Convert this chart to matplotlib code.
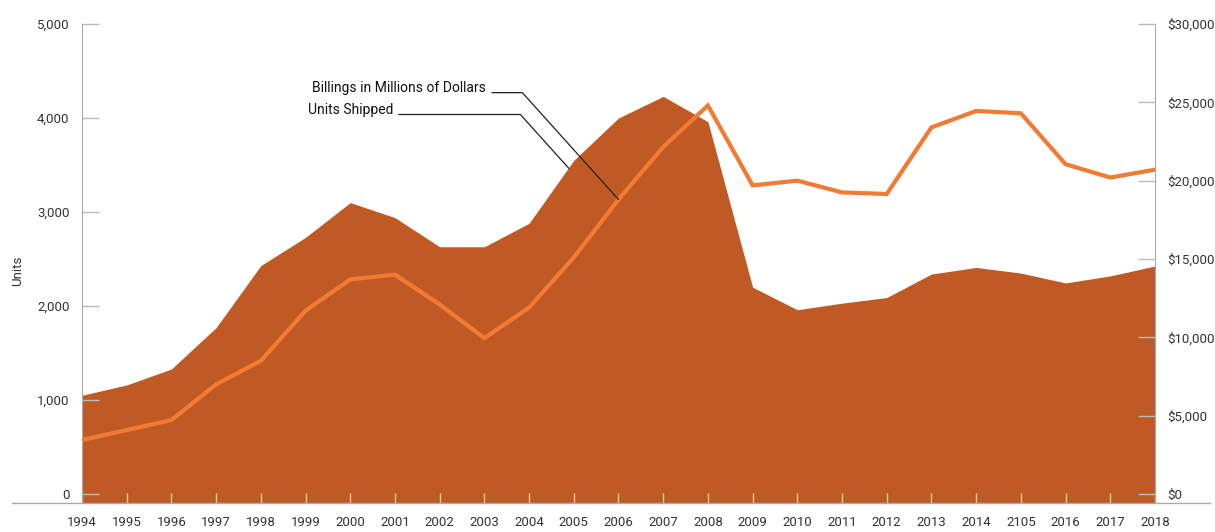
import numpy as np
import matplotlib.pyplot as plt
from matplotlib.transforms import offset_copy

plt.rcParams['font.family'] = ['Roboto', 'DejaVu Sans']

years = list(range(1994, 2019))
year_labels = ['1994', '1995', '1996', '1997', '1998', '1999', '2000', '2001',
               '2002', '2003', '2004', '2005', '2006', '2007', '2008', '2009',
               '2010', '2011', '2012', '2013', '2014', '2105', '2016', '2017',
               '2018']

# units shipped (left axis, area)
units = [1050, 1160, 1330, 1770, 2430, 2730, 3100, 2940, 2630, 2630, 2880,
         3550, 4000, 4230, 3960, 2200, 1960, 2030, 2090, 2340, 2410, 2350,
         2245, 2320, 2425]

# billings in millions of dollars (right axis, line)
billings = [3450, 4080, 4720, 7000, 8500, 11700, 13700, 14000, 12100, 9950,
            11900, 15100, 18800, 22150, 24800, 19700, 20000, 19250, 19150,
            23400, 24450, 24300, 21050, 20200, 20700]

unit_ticks = [0, 1000, 2000, 3000, 4000, 5000]
dollar_ticks = [0, 5000, 10000, 15000, 20000, 25000, 30000]

area_color = '#C05A25'
line_color = '#F27A33'
tick_gray = '#BBBBBB'
text_color = '#333333'

fig = plt.figure(figsize=(12.15, 5.32), dpi=100)
ax = fig.add_axes([0.0675, 0.0545, 0.8831, 0.9004])
ax2 = ax.twinx()

ymin = -96
ax.fill_between(years, units, ymin, color=area_color, lw=0, zorder=1)
ax.set_xlim(1994, 2018)
ax.set_ylim(ymin, 5000)
ax.set_yticks(unit_ticks)
ax.set_yticklabels(['{:,}'.format(v) for v in unit_ticks])
ax.set_xticks(years)
ax.set_xticklabels(year_labels)

ax2.plot(years, billings, color=line_color, lw=3, solid_joinstyle='miter')
ax2.set_ylim(ymin * 6, 30000)
ax2.set_yticks(dollar_ticks)
ax2.set_yticklabels(['${:,}'.format(v) for v in dollar_ticks])

for s in ['top', 'right', 'bottom']:
    ax.spines[s].set_visible(False)
for s in ['top', 'left', 'bottom']:
    ax2.spines[s].set_visible(False)
ax.spines['left'].set_color('#AAAAAA')
ax2.spines['right'].set_color('#AAAAAA')

# long baseline running past both axes
ax.plot([-0.065, 1.051], [0, 0], transform=ax.transAxes, color='#AAAAAA',
        lw=1, clip_on=False, zorder=3)

ax.tick_params(axis='y', direction='in', length=12, width=1, color=tick_gray,
               pad=9, labelsize=9.5, labelcolor=text_color)
ax2.tick_params(axis='y', direction='in', length=12, width=1, color=tick_gray,
                pad=9, labelsize=9.5, labelcolor=text_color)
ax.tick_params(axis='x', direction='in', length=7, width=1, color='#E8C4A8',
               pad=9, labelsize=9.5, labelcolor=text_color)

ax.set_ylabel('Units', fontsize=9.5, color=text_color)
ax.yaxis.set_label_coords(-0.054, 0.485)

ax2.annotate('Billings in Millions of Dollars', xy=(years[12], billings[12]),
             xytext=(-306, 111), textcoords='offset pixels', ha='left',
             va='center', fontsize=10, color='#111111',
             arrowprops=dict(arrowstyle='-', color='#222222', lw=0.9,
                             connectionstyle='angle,angleA=0,angleB=-48,rad=0',
                             relpos=(1, 0.2), shrinkA=2, shrinkB=0))

# units leader ends just inside the area, a little below the 2005 vertex
units_anchor = offset_copy(ax.transData, fig=fig, x=-5, y=-8, units='dots')
ax2.annotate('Units Shipped', xy=(years[11], units[11]), xycoords=units_anchor,
             xytext=(-261, 58), textcoords='offset pixels', ha='left',
             va='center', fontsize=10, color='#111111',
             arrowprops=dict(arrowstyle='-', color='#222222', lw=0.9,
                             connectionstyle='angle,angleA=0,angleB=-48,rad=0',
                             relpos=(1, 0.2), shrinkA=2, shrinkB=0))

fig.savefig('out.png', dpi=100)
